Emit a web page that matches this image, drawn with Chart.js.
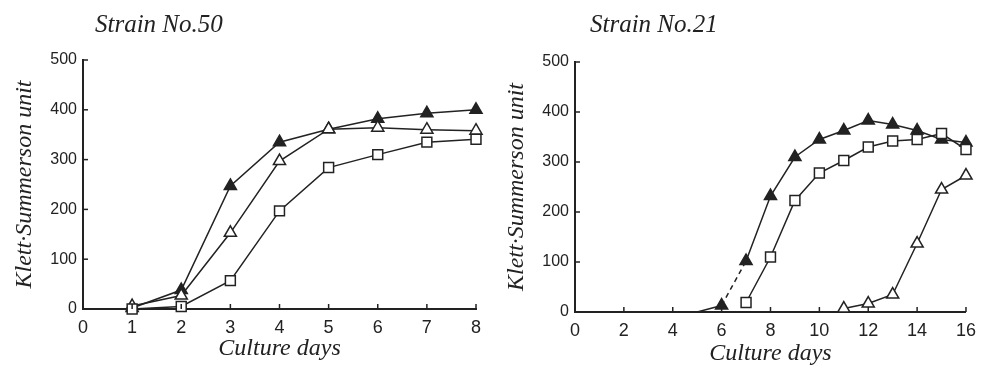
<!DOCTYPE html>
<html>
<head>
<meta charset="utf-8">
<script src="https://cdn.jsdelivr.net/npm/chart.js@4"></script>
<style>
    body { margin: 0; background: #fff; }
    #wrap { position: relative; width: 984px; height: 379px; overflow: hidden; }
    canvas { position: absolute; top: 0; }
    .title { position: absolute; top: 10px; font: italic 25px "Liberation Serif", serif; color: #222; }
</style>
</head>
<body>
<div id="wrap">
    <canvas id="chart50" width="492" height="379" style="left:0"></canvas>
    <canvas id="chart21" width="492" height="379" style="left:492px"></canvas>
    <div class="title" style="left:95px">Strain No.50</div>
    <div class="title" style="left:590px">Strain No.21</div>
</div>
<script>
// Strain No.50
const days50 = [1, 2, 3, 4, 5, 6, 7, 8];
const filled50 = [2, 38, 247, 335, 361, 382, 393, 400];
const open50 = [6, 27, 153, 297, 361, 364, 360, 358];
const square50 = [0, 5, 57, 197, 284, 310, 335, 341];

// Strain No.21
const filledDays21 = [5, 6, 7, 8, 9, 10, 11, 12, 13, 14, 15, 16];
const filled21 = [0, 13, 102, 232, 310, 345, 363, 383, 375, 363, 345, 339];
const squareDays21 = [7, 8, 9, 10, 11, 12, 13, 14, 15, 16];
const square21 = [19, 110, 223, 278, 303, 330, 342, 345, 357, 325];
const openDays21 = [11, 12, 13, 14, 15, 16];
const open21 = [7, 17, 35, 137, 245, 273];

const yTicks = [0, 100, 200, 300, 400, 500];

const ink = '#222';

function pts(xs, ys) {
    return xs.map((x, i) => ({ x: x, y: ys[i] }));
}

function series(data, style, fill, extra) {
    return Object.assign({
        data: data,
        borderColor: ink,
        borderWidth: 1.5,
        pointStyle: style,
        pointRadius: 7,
        pointBackgroundColor: fill,
        pointBorderColor: ink,
        pointBorderWidth: 1.5,
        clip: false
    }, extra || {});
}

// small ticks drawn inward from the axes
const innerTicks = {
    id: 'innerTicks',
    afterDraw(chart) {
        const ctx = chart.ctx;
        const xs = chart.scales.x, ys = chart.scales.y;
        const area = chart.chartArea;
        ctx.save();
        ctx.strokeStyle = ink;
        ctx.lineWidth = 1.5;
        xs.ticks.forEach(t => {
            if (t.value === 0) return;
            const px = xs.getPixelForValue(t.value);
            ctx.beginPath();
            ctx.moveTo(px, area.bottom);
            ctx.lineTo(px, area.bottom - 5);
            ctx.stroke();
        });
        ys.ticks.forEach(t => {
            if (t.value === 0) return;
            const py = ys.getPixelForValue(t.value);
            ctx.beginPath();
            ctx.moveTo(area.left, py);
            ctx.lineTo(area.left + 5, py);
            ctx.stroke();
        });
        ctx.restore();
    }
};

function makeChart(id, datasets, xMax, xStep, pad, xHeight, xTitlePad) {
    return new Chart(document.getElementById(id), {
        type: 'line',
        data: { datasets: datasets },
        plugins: [innerTicks],
        options: {
            responsive: false,
            animation: false,
            layout: { padding: pad },
            plugins: { legend: { display: false }, tooltip: { enabled: false } },
            scales: {
                x: {
                    type: 'linear',
                    min: 0,
                    max: xMax,
                    afterFit: s => { s.height = xHeight; },
                    grid: { drawOnChartArea: false, drawTicks: false },
                    border: { color: ink, width: 2 },
                    ticks: {
                        stepSize: xStep,
                        padding: 8,
                        color: ink,
                        font: { family: 'Liberation Sans', size: 18 }
                    },
                    title: {
                        display: true,
                        text: 'Culture days',
                        color: ink,
                        font: { family: 'Liberation Serif', style: 'italic', size: 24 },
                        padding: { top: 0, bottom: xTitlePad }
                    }
                },
                y: {
                    min: 0,
                    max: 500,
                    afterFit: s => { s.width = 83; },
                    afterBuildTicks: s => { s.ticks = yTicks.map(v => ({ value: v })); },
                    grid: { drawOnChartArea: false, drawTicks: false },
                    border: { color: ink, width: 2 },
                    ticks: {
                        padding: 6,
                        color: ink,
                        font: { family: 'Liberation Sans', size: 16 }
                    },
                    title: {
                        display: true,
                        text: 'Klett·Summerson unit',
                        color: ink,
                        font: { family: 'Liberation Serif', style: 'italic', size: 24 },
                        padding: { top: 10, bottom: 0 }
                    }
                }
            }
        }
    });
}

makeChart('chart50', [
    series(pts(days50, square50), 'rect', '#fff'),
    series(pts(days50, open50), 'triangle', '#fff'),
    series(pts(days50, filled50), 'triangle', ink)
], 8, 1, { left: 0, top: 60, right: 16, bottom: 0 }, 70, 16);

makeChart('chart21', [
    series(pts(openDays21, open21), 'triangle', '#fff'),
    series(pts(squareDays21, square21), 'rect', '#fff'),
    series(pts(filledDays21, filled21), 'triangle', ink, {
        pointRadius: filledDays21.map(d => d === 5 ? 0 : 7),
        segment: { borderDash: c => c.p0.parsed.x === 6 ? [5, 4] : undefined }
    })
], 16, 2, { left: 0, top: 62, right: 15, bottom: 0 }, 67, 11);
</script>
</body>
</html>
